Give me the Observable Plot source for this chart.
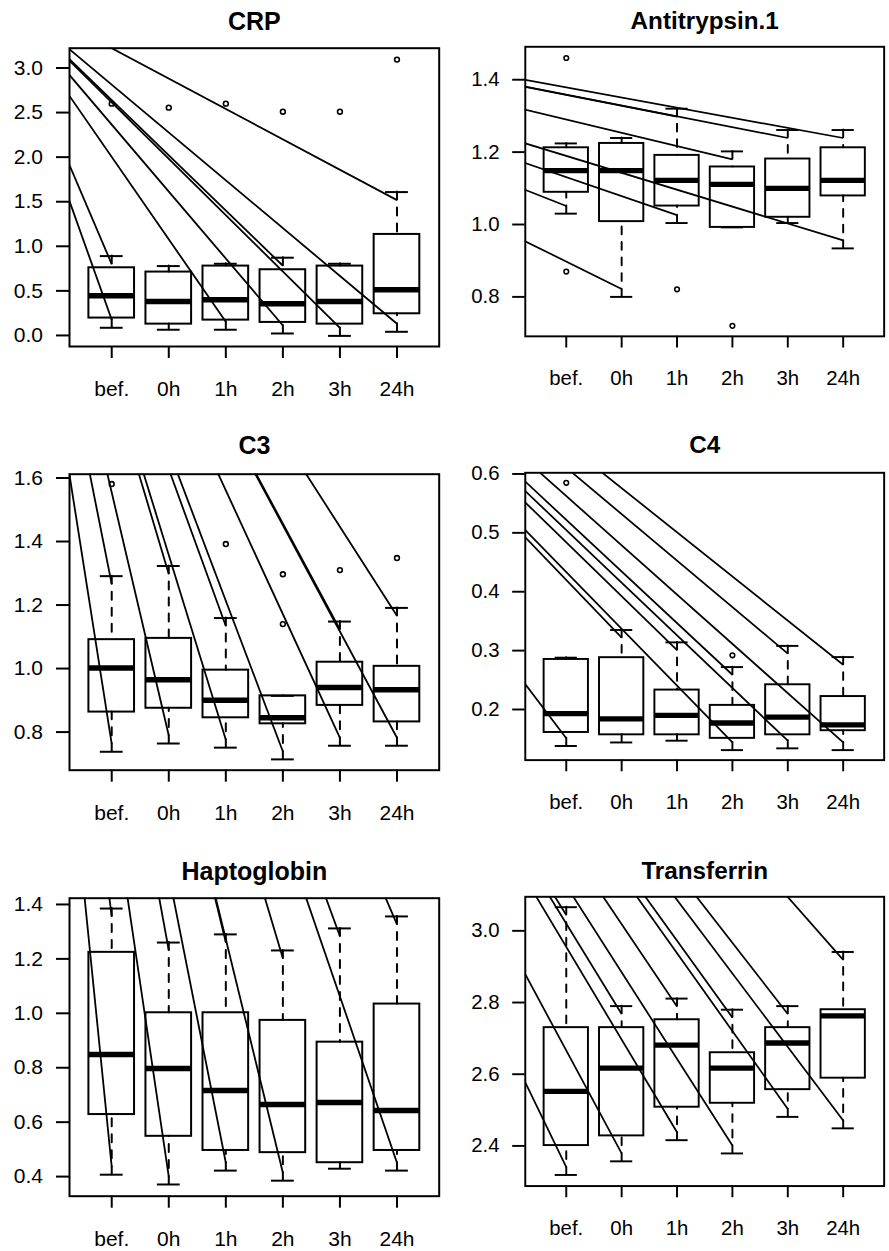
<!DOCTYPE html>
<html>
<head>
<meta charset="utf-8">
<script src="https://cdn.jsdelivr.net/npm/d3@7"></script>
<script src="https://cdn.jsdelivr.net/npm/@observablehq/plot@0.6"></script>
<style>
html, body { margin: 0; padding: 0; background: #ffffff; }
body { width: 889px; height: 1251px; overflow: hidden; position: relative; }
.panel { position: absolute; }
</style>
</head>
<body>
<div id="root"></div>
<script>
// ---------- data ----------
const categories = ["bef.", "0h", "1h", "2h", "3h", "24h"];
const panelTitles = ["CRP", "Antitrypsin.1", "C3", "C4", "Haptoglobin", "Transferrin"];

// five-number summaries per category: [lower whisker, Q1, median, Q3, upper whisker]
const crpStats = [
  [0.086, 0.195, 0.445, 0.759, 0.890],
  [0.064, 0.127, 0.382, 0.711, 0.778],
  [0.064, 0.172, 0.400, 0.778, 0.804],
  [0.022, 0.146, 0.355, 0.737, 0.872],
  [-0.005, 0.127, 0.382, 0.778, 0.804],
  [0.041, 0.243, 0.512, 1.133, 1.608]
];
const antitrypsinStats = [
  [1.030, 1.089, 1.149, 1.212, 1.224],
  [0.800, 1.008, 1.149, 1.224, 1.239],
  [1.004, 1.051, 1.122, 1.191, 1.320],
  [0.992, 0.992, 1.111, 1.159, 1.202],
  [1.004, 1.020, 1.100, 1.181, 1.261],
  [0.934, 1.079, 1.122, 1.212, 1.261]
];
const c3Stats = [
  [0.738, 0.863, 1.002, 1.091, 1.291],
  [0.764, 0.875, 0.965, 1.095, 1.323],
  [0.751, 0.845, 0.900, 0.995, 1.159],
  [0.714, 0.826, 0.845, 0.914, 0.914],
  [0.757, 0.884, 0.940, 1.020, 1.148],
  [0.757, 0.832, 0.933, 1.007, 1.191]
];
const c4Stats = [
  [0.138, 0.161, 0.193, 0.285, 0.288],
  [0.144, 0.157, 0.184, 0.288, 0.335],
  [0.147, 0.157, 0.190, 0.233, 0.314],
  [0.131, 0.151, 0.177, 0.207, 0.272],
  [0.134, 0.157, 0.187, 0.242, 0.308],
  [0.131, 0.164, 0.174, 0.222, 0.289]
];
const haptoglobinStats = [
  [0.407, 0.628, 0.849, 1.224, 1.385],
  [0.371, 0.548, 0.797, 1.002, 1.260],
  [0.422, 0.496, 0.716, 1.002, 1.290],
  [0.385, 0.488, 0.665, 0.974, 1.231],
  [0.429, 0.451, 0.672, 0.894, 1.312],
  [0.422, 0.496, 0.643, 1.034, 1.356]
];
const transferrinStats = [
  [2.319, 2.401, 2.552, 2.730, 3.066],
  [2.357, 2.428, 2.617, 2.730, 2.790],
  [2.416, 2.508, 2.681, 2.752, 2.811],
  [2.379, 2.519, 2.617, 2.660, 2.780],
  [2.481, 2.557, 2.687, 2.730, 2.790],
  [2.449, 2.589, 2.763, 2.780, 2.941]
];

// outliers: [category position (1..6), value]
const crpOutliers = [[1, 2.60], [2, 2.555], [3, 2.60], [4, 2.51], [5, 2.51], [6, 3.094]];
const antitrypsinOutliers = [[1, 1.460], [1, 0.870], [3, 0.821], [4, 0.720]];
const c3Outliers = [[1, 1.581], [3, 1.392], [4, 1.297], [4, 1.140], [5, 1.310], [6, 1.348]];
const c4Outliers = [[1, 0.585], [4, 0.292]];
const haptoglobinOutliers = [];
const transferrinOutliers = [];

// stray straight lines: all converge on one point up-left of each panel and end near whisker caps
const crpStrayOrigin = [-1.09, 3.934];
const antitrypsinStrayOrigin = [-9.112, 1.662];
const c3StrayOrigin = [-1.09, 3.154];
const c4StrayOrigin = [-9.112, 1.409];
const haptoglobinStrayOrigin = [-1.09, 4.782];
const transferrinStrayOrigin = [-9.112, 5.570];

const crpStrayEnds = [[1, 0.80], [1, 0.176], [3, 0.154], [4, 0.112], [4, 0.782], [5, 0.085], [6, 0.131], [6, 1.518]];
const antitrypsinStrayEnds = [[1, 1.051], [2, 0.822], [3, 1.298], [3, 1.026], [4, 1.180], [5, 1.239], [6, 1.239], [6, 0.956]];
const c3StrayEnds = [[1, 0.763], [1, 1.266], [2, 0.789], [2, 1.298], [3, 0.776], [3, 1.134], [4, 0.739], [5, 0.782], [5, 1.123], [6, 0.782], [6, 1.166]];
const c4StrayEnds = [[1, 0.151], [2, 0.322], [3, 0.301], [4, 0.259], [4, 0.144], [5, 0.295], [5, 0.147], [6, 0.276], [6, 0.144]];
const haptoglobinStrayEnds = [[1, 1.356], [1, 0.436], [2, 1.231], [2, 0.400], [3, 1.261], [3, 0.451], [4, 1.202], [4, 0.414], [5, 1.283], [6, 1.327], [6, 0.451]];
const transferrinStrayEnds = [[1, 3.044], [1, 2.341], [2, 2.768], [2, 2.379], [3, 2.789], [3, 2.438], [4, 2.758], [4, 2.401], [5, 2.768], [5, 2.503], [6, 2.919], [6, 2.471]];

// y axis domains and tick values
const crpDomain = [-0.124, 3.222];
const antitrypsinDomain = [0.691, 1.491];
const c3Domain = [0.680, 1.612];
const c4Domain = [0.114, 0.602];
const haptoglobinDomain = [0.328, 1.423];
const transferrinDomain = [2.288, 3.095];

const crpTicks = [0, 0.5, 1.0, 1.5, 2.0, 2.5, 3.0];
const antitrypsinTicks = [0.8, 1.0, 1.2, 1.4];
const c3Ticks = [0.8, 1.0, 1.2, 1.4, 1.6];
const c4Ticks = [0.2, 0.3, 0.4, 0.5, 0.6];
const haptoglobinTicks = [0.4, 0.6, 0.8, 1.0, 1.2, 1.4];
const transferrinTicks = [2.4, 2.6, 2.8, 3.0];

// ---------- layout ----------
const FONT = "'Liberation Sans', Arial, Helvetica, sans-serif";
const colLeft = [{left: 0, width: 444.5, ml: 69, mr: 5.8}, {left: 444.5, width: 457.9, ml: 82.2, mr: 6}];
const rowTop = [{top: 0, frameH: 298.3, gap: 18.4}, {top: 426, frameH: 296, gap: 20.4}, {top: 850.3, frameH: 298, gap: 18}];

const panels = [
  {stats: crpStats, outliers: crpOutliers, origin: crpStrayOrigin, ends: crpStrayEnds, domain: crpDomain, ticks: crpTicks},
  {stats: antitrypsinStats, outliers: antitrypsinOutliers, origin: antitrypsinStrayOrigin, ends: antitrypsinStrayEnds, domain: antitrypsinDomain, ticks: antitrypsinTicks},
  {stats: c3Stats, outliers: c3Outliers, origin: c3StrayOrigin, ends: c3StrayEnds, domain: c3Domain, ticks: c3Ticks},
  {stats: c4Stats, outliers: c4Outliers, origin: c4StrayOrigin, ends: c4StrayEnds, domain: c4Domain, ticks: c4Ticks},
  {stats: haptoglobinStats, outliers: haptoglobinOutliers, origin: haptoglobinStrayOrigin, ends: haptoglobinStrayEnds, domain: haptoglobinDomain, ticks: haptoglobinTicks},
  {stats: transferrinStats, outliers: transferrinOutliers, origin: transferrinStrayOrigin, ends: transferrinStrayEnds, domain: transferrinDomain, ticks: transferrinTicks}
];

const root = document.getElementById("root");
const fmt = d3.format(".1f");

panels.forEach((p, k) => {
  const col = colLeft[k % 2];
  const row = rowTop[Math.floor(k / 2)];
  const marginTop = 47.7, marginBottom = 55;
  const boxes = p.stats.map((s, i) => ({pos: i + 1, lo: s[0], q1: s[1], med: s[2], q3: s[3], hi: s[4]}));
  const whisk = {x: "pos", stroke: "black", strokeWidth: 2, strokeDasharray: "8,8", strokeLinecap: "round"};
  const svg = Plot.plot({
    width: col.width,
    height: marginTop + row.frameH + marginBottom,
    marginLeft: col.ml, marginRight: col.mr, marginTop, marginBottom,
    x: {domain: [0.26, 6.74]},
    y: {domain: p.domain},
    style: {fontFamily: FONT, color: "black", background: "transparent", overflow: "visible"},
    marks: [
      Plot.ruleX(boxes, {...whisk, y1: "hi", y2: "q3"}),
      Plot.ruleX(boxes, {...whisk, y1: "lo", y2: "q1"}),
      Plot.ruleY(boxes, {y: "hi", x1: d => d.pos - 0.2, x2: d => d.pos + 0.2, stroke: "black", strokeWidth: 2}),
      Plot.ruleY(boxes, {y: "lo", x1: d => d.pos - 0.2, x2: d => d.pos + 0.2, stroke: "black", strokeWidth: 2}),
      Plot.rect(boxes, {x1: d => d.pos - 0.4, x2: d => d.pos + 0.4, y1: "q1", y2: "q3", fill: "none", stroke: "black", strokeWidth: 2}),
      Plot.ruleY(boxes, {y: "med", x1: d => d.pos - 0.4, x2: d => d.pos + 0.4, stroke: "black", strokeWidth: 5.5, strokeLinecap: "butt"}),
      Plot.dot(p.outliers, {x: d => d[0], y: d => d[1], r: 2.4, stroke: "black", strokeWidth: 1.6, fill: "none"}),
      Plot.link(p.ends, {x1: () => p.origin[0], y1: () => p.origin[1], x2: d => d[0], y2: d => d[1], stroke: "black", strokeWidth: 1.8, clip: true}),
      Plot.frame({stroke: "black", strokeWidth: 2}),
      Plot.axisX({ticks: [1, 2, 3, 4, 5, 6], tickFormat: i => categories[i - 1], tickSize: 12, tickPadding: 23, fontSize: 21, strokeWidth: 2, label: null}),
      Plot.axisY({ticks: p.ticks, tickFormat: fmt, tickSize: 13, tickPadding: 13.5, fontSize: 21, strokeWidth: 2, label: null}),
      Plot.text([panelTitles[k]], {text: d => d, frameAnchor: "top", lineAnchor: "bottom", dy: -row.gap, fontSize: 25, fontWeight: "bold", fill: "black"})
    ]
  });
  const wrap = document.createElement("div");
  wrap.className = "panel";
  wrap.style.left = col.left + "px";
  wrap.style.top = row.top + "px";
  wrap.appendChild(svg);
  root.appendChild(wrap);
});
</script>
</body>
</html>
